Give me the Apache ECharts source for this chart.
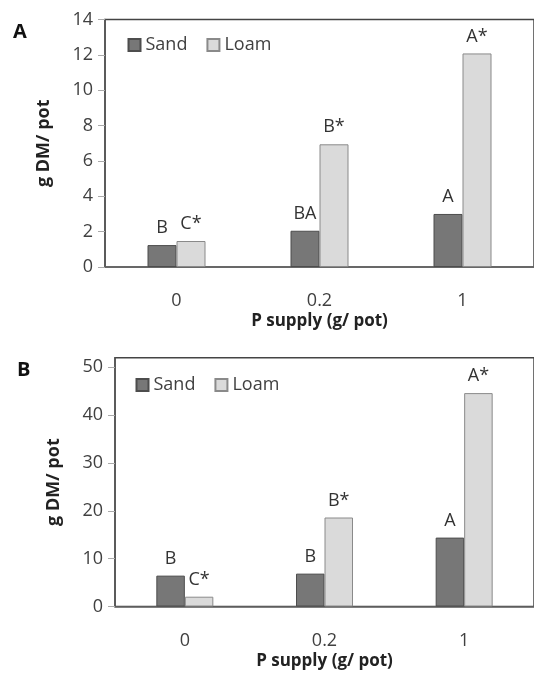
<!DOCTYPE html>
<html>
<head>
<meta charset="utf-8">
<script src="https://cdn.jsdelivr.net/npm/echarts@6/dist/echarts.min.js"></script>
<style>
  html, body { margin: 0; padding: 0; background: #fff; }
  #chart { width: 534px; height: 673px; }
</style>
</head>
<body>
<div id="chart"></div>
<script>
// P supply levels (g/ pot)
var categories = ['0', '0.2', '1'];

// panel A
var sandA = [1.24, 2.05, 3.0];
var loamA = [1.47, 6.94, 12.08];
var sandLettersA = ['B', 'BA', 'A'];
var loamLettersA = ['C*', 'B*', 'A*'];
var yTicksA = [0, 2, 4, 6, 8, 10, 12, 14];

// panel B
var sandB = [6.45, 6.87, 14.4];
var loamB = [2.05, 18.6, 44.6];
var sandLettersB = ['B', 'B', 'A'];
var loamLettersB = ['C*', 'B*', 'A*'];
var yTicksB = [0, 10, 20, 30, 40, 50];

var FONT = 'Open Sans';
var sandStyle = { color: '#777777', borderColor: '#4d4d4d', borderWidth: 1 };
var loamStyle = { color: '#dadada', borderColor: '#8a8a8a', borderWidth: 1 };

function xAxisFor(gridIndex) {
    return {
        type: 'category',
        gridIndex: gridIndex,
        data: categories,
        name: 'P supply (g/ pot)',
        nameLocation: 'middle',
        nameGap: 46,
        nameTextStyle: { fontFamily: FONT, fontSize: 17, fontWeight: 'bold', color: '#222' },
        axisLine: { lineStyle: { color: '#666', width: 1.5 } },
        axisTick: { show: false },
        axisLabel: { fontFamily: FONT, fontSize: 18, color: '#404040', margin: 25 }
    };
}

function yAxisFor(gridIndex, max, interval, ticks) {
    return {
        type: 'value',
        gridIndex: gridIndex,
        min: 0,
        max: max,
        interval: interval,
        name: 'g DM/ pot',
        nameLocation: 'middle',
        nameGap: 52,
        nameTextStyle: { fontFamily: FONT, fontSize: 18, fontWeight: 'bold', color: '#222' },
        axisLine: { show: true, lineStyle: { color: '#555', width: 1.5 } },
        axisTick: { show: true, length: 7, customValues: ticks, lineStyle: { color: '#aaa' } },
        axisLabel: { fontFamily: FONT, fontSize: 18, color: '#404040', margin: 12, customValues: ticks },
        splitLine: { show: false }
    };
}

function barSeries(name, data, letters, style, axisIndex, width) {
    return {
        name: name,
        type: 'bar',
        xAxisIndex: axisIndex,
        yAxisIndex: axisIndex,
        data: data,
        barWidth: width,
        barGap: '0%',
        itemStyle: style,
        label: {
            show: true,
            position: 'top',
            distance: 8,
            fontFamily: FONT,
            fontSize: 18,
            color: '#333',
            formatter: function (p) { return letters[p.dataIndex]; }
        }
    };
}

function legendFor(left, top) {
    return {
        left: left,
        top: top,
        itemWidth: 12,
        itemHeight: 12,
        itemGap: 19,
        icon: 'rect',
        data: ['Sand', 'Loam'],
        textStyle: { fontFamily: FONT, fontSize: 18, color: '#404040' }
    };
}

var chart = echarts.init(document.getElementById('chart'));
chart.setOption({
    animation: false,
    backgroundColor: '#fff',
    title: [
        { text: 'A', left: 8, top: 17, textStyle: { fontFamily: FONT, fontSize: 20, fontWeight: 'bold', color: '#111' } },
        { text: 'B', left: 12, top: 355, textStyle: { fontFamily: FONT, fontSize: 20, fontWeight: 'bold', color: '#111' } }
    ],
    legend: [legendFor(122.5, 31), legendFor(130.5, 371)],
    grid: [
        { left: 105, top: 19.5, width: 440, height: 247.5, show: true, borderColor: '#444', borderWidth: 1.5 },
        { left: 115, top: 357.7, width: 427, height: 248.8, show: true, borderColor: '#444', borderWidth: 1.5 }
    ],
    xAxis: [xAxisFor(0), xAxisFor(1)],
    yAxis: [yAxisFor(0, 14, 2, yTicksA), yAxisFor(1, 52, 10, yTicksB)],
    series: [
        barSeries('Sand', sandA, sandLettersA, sandStyle, 0, 29),
        barSeries('Loam', loamA, loamLettersA, loamStyle, 0, 29),
        barSeries('Sand', sandB, sandLettersB, sandStyle, 1, 28.5),
        barSeries('Loam', loamB, loamLettersB, loamStyle, 1, 28.5)
    ]
});
</script>
</body>
</html>
